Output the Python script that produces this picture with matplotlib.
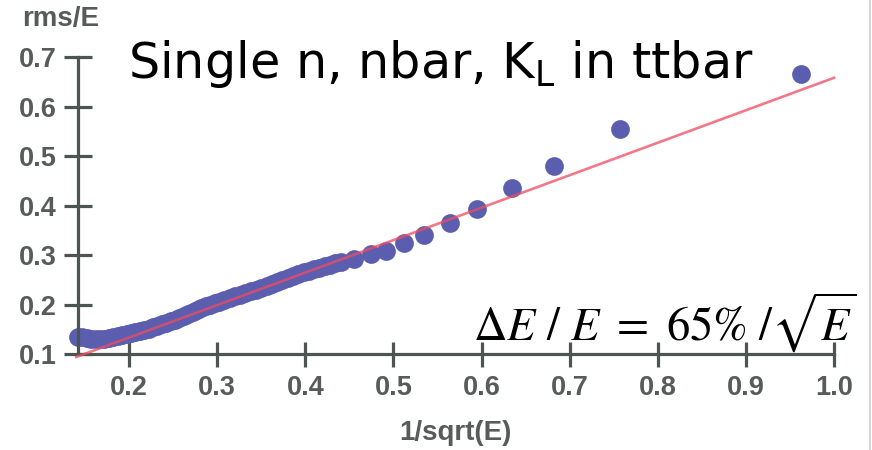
import numpy as np
import matplotlib
matplotlib.use('Agg')
import matplotlib.pyplot as plt
from matplotlib.lines import Line2D
from matplotlib.font_manager import FontProperties

# rms/E vs 1/sqrt(E)
x_pts = [0.142, 0.147, 0.152, 0.157, 0.162, 0.167, 0.172, 0.177, 0.182, 0.187,
         0.192, 0.197, 0.202, 0.207, 0.212, 0.217, 0.222, 0.227, 0.232, 0.237,
         0.242, 0.247, 0.252, 0.257, 0.262, 0.267, 0.272, 0.277, 0.282, 0.287,
         0.292, 0.297, 0.302, 0.308, 0.314, 0.320, 0.326, 0.332, 0.338, 0.344,
         0.350, 0.356, 0.362, 0.368, 0.374, 0.380, 0.386, 0.392, 0.398, 0.404,
         0.410, 0.416, 0.422, 0.428, 0.434, 0.440, 0.455, 0.474, 0.491, 0.512,
         0.535, 0.564, 0.595, 0.635, 0.682, 0.757, 0.962]
y_pts = [0.135, 0.134, 0.133, 0.131, 0.130, 0.130, 0.131, 0.133, 0.135, 0.137,
         0.139, 0.141, 0.143, 0.145, 0.147, 0.149, 0.151, 0.154, 0.157, 0.160,
         0.163, 0.166, 0.169, 0.172, 0.176, 0.180, 0.185, 0.189, 0.193, 0.197,
         0.200, 0.203, 0.206, 0.210, 0.213, 0.217, 0.220, 0.224, 0.227, 0.230,
         0.234, 0.238, 0.242, 0.246, 0.250, 0.254, 0.258, 0.262, 0.265, 0.268,
         0.271, 0.274, 0.277, 0.280, 0.283, 0.286, 0.292, 0.302, 0.308, 0.325,
         0.341, 0.365, 0.392, 0.435, 0.480, 0.555, 0.666]

# linear fit end points
fit_x = [0.14, 1.0]
fit_y = [0.094, 0.658]

xticks = [0.2, 0.3, 0.4, 0.5, 0.6, 0.7, 0.8, 0.9, 1.0]
yticks = [0.1, 0.2, 0.3, 0.4, 0.5, 0.6, 0.7]

axis_col = '#4d5553'
lab_col = '#575b5a'

fig = plt.figure(figsize=(8.72, 4.5), dpi=100)
ax = fig.add_axes([0.0891, 0.2133, 0.8673, 0.66])

ax.plot(x_pts, y_pts, 'o', color='#5b5eae', ms=13.5, mec='none', zorder=2, clip_on=False)
ax.plot(fit_x, fit_y, '-', color='#f04a62', lw=1.9, alpha=0.75, zorder=3, clip_on=False)

ax.set_xlim(0.1416, 1.0)
ax.set_ylim(0.1, 0.7)
ax.set_xticks(xticks)
ax.set_yticks(yticks)
ax.set_xticklabels(['%.1f' % v for v in xticks])
ax.set_yticklabels(['%.1f' % v for v in yticks])

for s in ['top', 'right']:
    ax.spines[s].set_visible(False)
for s in ['left', 'bottom']:
    ax.spines[s].set_color(axis_col)
    ax.spines[s].set_linewidth(2.3)

ax.tick_params(axis='y', direction='inout', length=20, width=2.3, color=axis_col, pad=5)
ax.tick_params(axis='x', direction='inout', length=18, width=2.3, color=axis_col, pad=6)
for lab in ax.get_xticklabels() + ax.get_yticklabels():
    lab.set_fontfamily('Liberation Sans')
    lab.set_fontweight('bold')
    lab.set_fontsize(19.5)
    lab.set_color(lab_col)

fig.text(0.070, 0.958, 'rms/E', ha='center', va='center', fontsize=20,
         fontweight='bold', family='Liberation Sans', color=lab_col)
fig.text(0.522, 0.038, '1/sqrt(E)', ha='center', va='center', fontsize=20,
         fontweight='bold', family='Liberation Sans', color=lab_col)

fig.text(0.147, 0.827, r'Single n, nbar, K$_{\rm L}$ in ttbar', ha='left', va='baseline',
         fontsize=35.5, family='DejaVu Sans', color='black')

fp = FontProperties(size=33.5, math_fontfamily='stix')
fig.text(0.983, 0.242, r'$\Delta E\ \mathrm{/}\ E\ =\ 65\%\ \mathrm{/}\sqrt{E}$', ha='right',
         va='baseline', fontproperties=fp, color='black')

fig.add_artist(Line2D([0.998, 0.998], [0, 1], color='#cfcfcf', lw=1.2))

fig.savefig('out.png', dpi=100)
